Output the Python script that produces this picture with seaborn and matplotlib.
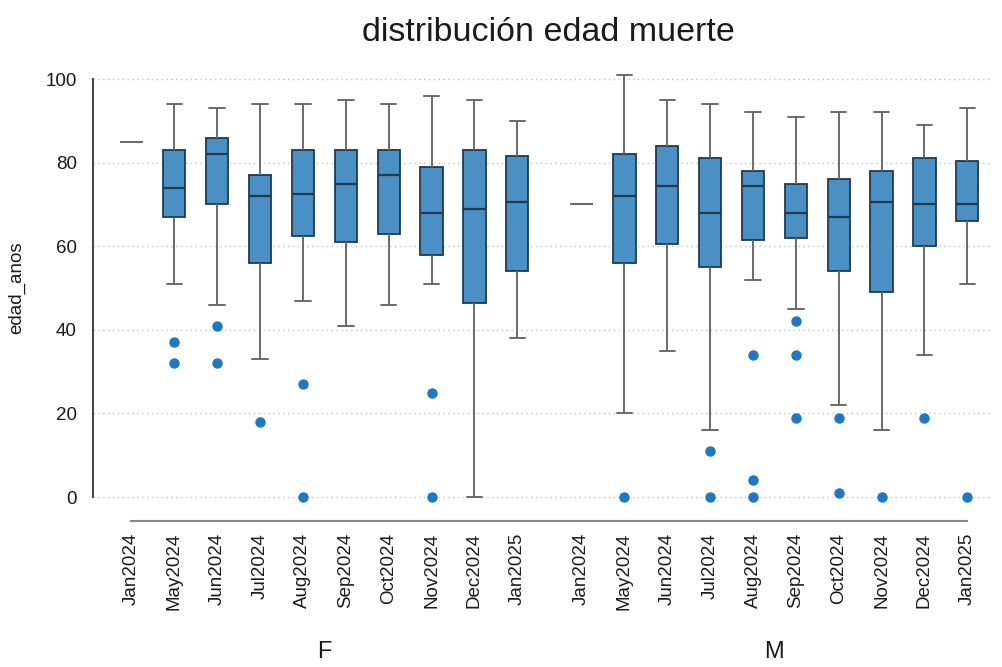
import matplotlib
matplotlib.use("Agg")
import matplotlib.pyplot as plt
import numpy as np
import pandas as pd
import seaborn as sns
from matplotlib.transforms import blended_transform_factory

# ---- data: age at death by month of death, split by sex ----
months = ["Jan2024", "May2024", "Jun2024", "Jul2024", "Aug2024",
          "Sep2024", "Oct2024", "Nov2024", "Dec2024", "Jan2025"]
sexes = ["F", "M"]

# box summaries per month (Jan2024 holds one death per sex)
f_q1 = [85, 67, 70, 56, 62.5, 61, 63, 58, 46.5, 54]
f_med = [85, 74, 82, 72, 72.5, 75, 77, 68, 69, 70.5]
f_q3 = [85, 83, 86, 77, 83, 83, 83, 79, 83, 81.5]
f_lo = [85, 51, 46, 33, 47, 41, 46, 51, 0, 38]
f_hi = [85, 94, 93, 94, 94, 95, 94, 96, 95, 90]
f_out = [[], [37, 32], [41, 32], [18], [27, 0], [], [], [25, 0], [], []]

m_q1 = [70, 56, 60.5, 55, 61.5, 62, 54, 49, 60, 66]
m_med = [70, 72, 74.5, 68, 74.5, 68, 67, 70.5, 70, 70]
m_q3 = [70, 82, 84, 81, 78, 75, 76, 78, 81, 80.5]
m_lo = [70, 20, 35, 16, 52, 45, 22, 16, 34, 51]
m_hi = [70, 101, 95, 94, 92, 91, 92, 92, 89, 93]
m_out = [[], [0], [], [11, 0], [34, 4, 0], [42, 34, 19], [19, 1], [0], [19], [0]]

summaries = {
    "F": (f_lo, f_q1, f_med, f_q3, f_hi, f_out),
    "M": (m_lo, m_q1, m_med, m_q3, m_hi, m_out),
}


def observations(lo, q1, med, q3, hi, out, k=20):
    """Ages whose quartiles, whisker ends and outliers equal the summary."""
    if lo == q1 == med == q3 == hi:
        return [med]
    return [lo] + [q1] * k + [med] * k + [q3] * k + [hi] + list(out)


rows = []
single_pos = []
gap = len(months) + 0.5
for g, sex in enumerate(sexes):
    lo, q1, med, q3, hi, out = summaries[sex]
    for i, month in enumerate(months):
        pos = i + g * gap
        obs = observations(lo[i], q1[i], med[i], q3[i], hi[i], out[i])
        if len(obs) == 1:
            single_pos.append(pos)
        for v in obs:
            rows.append({"sexo": sex, "mes": month, "pos": pos, "edad_anos": v})
df = pd.DataFrame(rows)

# ---- styling ----
sns.set_theme(style="white")
plt.rcParams["font.family"] = ["Liberation Sans", "DejaVu Sans"]

BOX = "#4a90c4"
EDGE = "#1e3a52"
WHISK = "#6a6a6a"
DOT = "#1f78c1"
TXT = "#1a1a1a"

W, H = 1002, 667
fig = plt.figure(figsize=(W / 100, H / 100), dpi=100)
ax = fig.add_axes([93 / W, 1 - 521 / H, (990 - 93) / W, (521 - 60) / H])

sns.boxplot(
    data=df, x="pos", y="edad_anos", native_scale=True, ax=ax,
    width=0.52, color=BOX, linecolor=EDGE, linewidth=1.3, saturation=1,
    whiskerprops=dict(color=WHISK, linewidth=1.4),
    capprops=dict(color=WHISK, linewidth=1.4),
    medianprops=dict(color=EDGE, linewidth=1.6),
    flierprops=dict(marker="o", markerfacecolor=DOT, markeredgecolor=DOT,
                    markersize=6.5),
    capwidths=0.36,
)

# months with a single death collapse to a flat box: show it as a thin grey tick
def near_single(xs):
    c = float(np.mean(xs))
    return any(abs(c - p) < 0.05 for p in single_pos)

for patch in ax.patches:
    ext = patch.get_path().get_extents(patch.get_patch_transform())
    if np.isclose(ext.height, 0) and near_single([ext.x0, ext.x1]):
        patch.set_edgecolor(WHISK)
        patch.set_linewidth(1.2)
for line in ax.lines:
    x = np.asarray(line.get_xdata(), dtype=float)
    if x.size == 2 and abs(x[1] - x[0]) > 0.4 and near_single(x):
        line.set_color(WHISK)
        line.set_linewidth(1.2)

ax.set_xlim(-0.898, 20.03)
ax.set_ylim(-5.74, 104.55)

positions = [i + g * gap for g in range(len(sexes)) for i in range(len(months))]
ax.set_xticks(positions)
ax.set_xticklabels(months * len(sexes), rotation=90, fontsize=13.5, color=TXT)
ax.set_yticks([0, 20, 40, 60, 80, 100])
ax.set_yticklabels(["0", "20", "40", "60", "80", "100"], fontsize=13.5, color=TXT)
ax.tick_params(axis="x", length=0, pad=8.6)
ax.tick_params(axis="y", length=7.2, width=1.3, color="#444444", pad=4.4)
ax.set_xlabel("")
ax.set_ylabel("")

for s in ["top", "right"]:
    ax.spines[s].set_visible(False)
ax.spines["left"].set_bounds(0, 100)
ax.spines["left"].set_color("#333333")
ax.spines["left"].set_linewidth(1.3)
ax.spines["bottom"].set_bounds(positions[0], positions[-1])
ax.spines["bottom"].set_color("#8a8a8a")
ax.spines["bottom"].set_linewidth(1.5)

ax.set_axisbelow(True)
ax.yaxis.grid(True, linestyle=(0, (1, 2.5)), color="#c4c4c4", linewidth=1)
ax.xaxis.grid(False)

# group labels under each block of months
trans = blended_transform_factory(ax.transData, fig.transFigure)
for g, sex in enumerate(sexes):
    center = g * gap + (len(months) - 1) / 2
    ax.text(center, 1 - 658 / H, sex, transform=trans, ha="center",
            va="baseline", fontsize=17, color=TXT)

fig.text(17 / W, 1 - 288 / H, "edad_anos", rotation=90, ha="center",
         va="center", fontsize=13.5, color=TXT)
fig.text(548.5 / W, 1 - 41 / H, "distribución edad muerte", ha="center",
         va="baseline", fontsize=24.5, color=TXT)

fig.savefig("out.png", dpi=100, facecolor="white")
